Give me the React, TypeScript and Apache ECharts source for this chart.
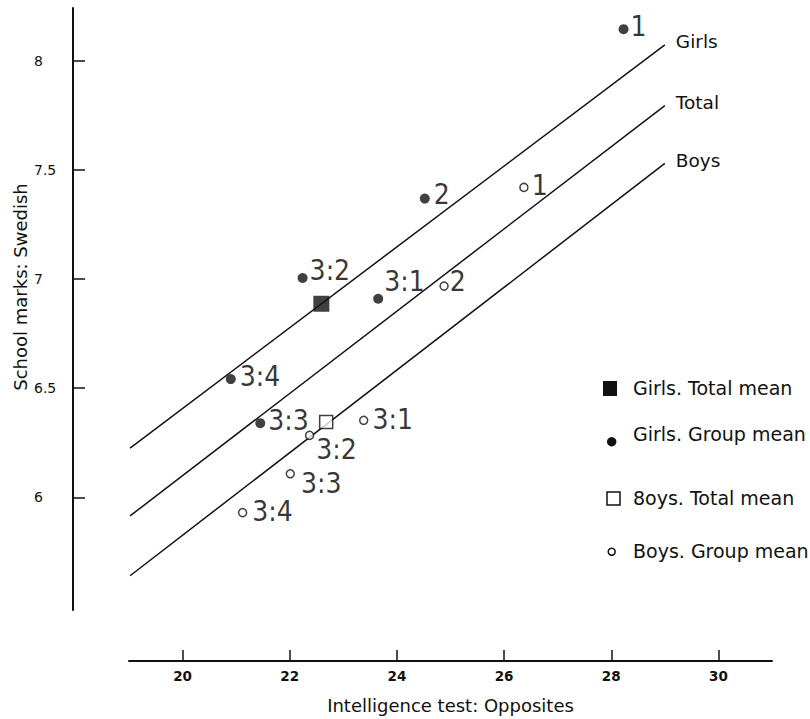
import React, { useEffect, useRef } from "react";
import * as echarts from "echarts";

// ---- data ----
const xTicks = [20, 22, 24, 26, 28, 30];
const yTicks = [6, 6.5, 7, 7.5, 8];

const girlsGroupLabels = ["1", "2", "3:1", "3:2", "3:3", "3:4"];
const girlsGroupX = [28.23, 24.52, 23.65, 22.24, 21.45, 20.9];
const girlsGroupY = [8.145, 7.369, 6.91, 7.005, 6.34, 6.542];

const boysGroupLabels = ["1", "2", "3:1", "3:2", "3:3", "3:4"];
const boysGroupX = [26.37, 24.88, 23.38, 22.37, 22.01, 21.12];
const boysGroupY = [7.42, 6.968, 6.353, 6.284, 6.108, 5.93];

const girlsTotalMean = [22.59, 6.887];
const boysTotalMean = [22.68, 6.345];

const lineNames = ["Girls", "Total", "Boys"];
const lineStartX = [19.02, 19.02, 19.02];
const lineStartY = [6.226, 5.915, 5.641];
const lineEndX = [29.0, 29.0, 29.0];
const lineEndY = [8.073, 7.795, 7.53];

const legendLabels = [
  "Girls. Total mean",
  "Girls. Group mean",
  "8oys. Total mean",
  "Boys. Group mean",
];

// ---- layout (label offsets in px, not data) ----
const girlsLabelDx = [8, 10, 7, 8, 9, 10];
const girlsLabelDy = [-3, -4, -17, -8, -3, -3];
const boysLabelDx = [8, 6, 9, 7, 11, 10];
const boysLabelDy = [-2, -5, -1, 14, 10, -1];

const FONT = "'DejaVu Sans', sans-serif";
const NUM_FONT = "'Liberation Sans Narrow', 'DejaVu Sans Condensed', 'Liberation Sans', sans-serif";

export default function App() {
  const ref = useRef<HTMLDivElement>(null);

  useEffect(() => {
    document.body.style.margin = "0";
    const chart = echarts.init(ref.current!, undefined, { renderer: "svg" });

    const pointLabel = (fontSize: number) => ({
      show: true,
      position: "right" as const,
      distance: 0,
      formatter: "{b}",
      fontFamily: NUM_FONT,
      fontSize,
      color: "#000",
    });

    const gR = 5;
    const bR = 4;

    const girlsData = girlsGroupX.map((x, i) => ({
      name: girlsGroupLabels[i],
      value: [x, girlsGroupY[i]],
      label: { offset: [girlsLabelDx[i] - gR - 1, girlsLabelDy[i]] },
    }));
    const boysData = boysGroupX.map((x, i) => ({
      name: boysGroupLabels[i],
      value: [x, boysGroupY[i]],
      label: { offset: [boysLabelDx[i] - bR - 1, boysLabelDy[i]] },
    }));

    const lineSeries = lineNames.map((n, i) => ({
      name: n,
      type: "line",
      silent: true,
      symbol: "none",
      z: 1,
      lineStyle: { color: "#111", width: 1.5 },
      data: [
        [lineStartX[i], lineStartY[i]],
        [lineEndX[i], lineEndY[i]],
      ],
      endLabel: {
        show: true,
        formatter: "{a}",
        distance: 11,
        offset: [0, -3],
        fontFamily: FONT,
        fontSize: 18.5,
        color: "#111",
      },
    }));

    const option: any = {
      animation: false,
      backgroundColor: "#fff",
      grid: { left: 129, right: 38, top: 8, bottom: 107 },
      xAxis: {
        type: "value",
        min: 19,
        max: 31,
        offset: 51,
        name: "Intelligence test: Opposites",
        nameLocation: "middle",
        nameGap: 35,
        nameTextStyle: { fontFamily: FONT, fontSize: 18, color: "#111" },
        axisLine: { show: true, lineStyle: { color: "#111", width: 2 } },
        axisTick: {
          show: true,
          inside: true,
          length: 11,
          lineStyle: { color: "#111", width: 1.5 },
          customValues: xTicks,
        },
        axisLabel: {
          customValues: xTicks,
          margin: 8,
          fontFamily: FONT,
          fontWeight: "bold",
          fontSize: 13.5,
          color: "#111",
        },
        splitLine: { show: false },
      },
      yAxis: {
        type: "value",
        min: 5.484,
        max: 8.242,
        offset: 56,
        axisLine: { show: true, lineStyle: { color: "#111", width: 2 } },
        axisTick: {
          show: true,
          inside: true,
          length: 12,
          lineStyle: { color: "#111", width: 1.5 },
          customValues: yTicks,
        },
        axisLabel: {
          customValues: yTicks,
          align: "left",
          margin: 39,
          fontFamily: FONT,
          fontSize: 14,
          color: "#111",
          formatter: (v: number) => String(v),
        },
        splitLine: { show: false },
      },
      graphic: [
        {
          type: "text",
          x: 20,
          y: 287,
          rotation: Math.PI / 2,
          style: {
            text: "School marks: Swedish",
            font: `18px ${FONT}`,
            fill: "#111",
            align: "center",
            verticalAlign: "middle",
          },
        },
        { type: "rect", shape: { x: 603, y: 381, width: 14, height: 15 }, style: { fill: "#111" } },
        { type: "circle", shape: { cx: 611.7, cy: 441.7, r: 4.7 }, style: { fill: "#111" } },
        {
          type: "rect",
          shape: { x: 607, y: 492, width: 13, height: 13 },
          style: { fill: "#fff", stroke: "#111", lineWidth: 1.5 },
        },
        {
          type: "circle",
          shape: { cx: 611.7, cy: 551.7, r: 3.5 },
          style: { fill: "#fff", stroke: "#111", lineWidth: 1.5 },
        },
        ...legendLabels.map((t, i) => ({
          type: "text",
          x: 633,
          y: [388, 434, 498, 551][i],
          style: {
            text: t,
            font: `19px ${FONT}`,
            fill: "#111",
            align: "left",
            verticalAlign: "middle",
          },
        })),
      ],
      series: [
        ...lineSeries,
        {
          name: "Girls. Total mean",
          type: "scatter",
          silent: true,
          z: 3,
          symbol: "rect",
          symbolSize: 16,
          itemStyle: { color: "#111" },
          data: [girlsTotalMean],
        },
        {
          name: "Girls. Group mean",
          type: "scatter",
          silent: true,
          z: 3,
          symbol: "circle",
          symbolSize: gR * 2,
          itemStyle: { color: "#111" },
          label: pointLabel(28),
          data: girlsData,
        },
        {
          name: "Boys. Total mean",
          type: "scatter",
          silent: true,
          z: 3,
          symbol: "rect",
          symbolSize: 13,
          itemStyle: { color: "#fff", borderColor: "#111", borderWidth: 1.5 },
          data: [boysTotalMean],
        },
        {
          name: "Boys. Group mean",
          type: "scatter",
          silent: true,
          z: 3,
          symbol: "circle",
          symbolSize: bR * 2,
          itemStyle: { color: "#fff", borderColor: "#111", borderWidth: 1.5 },
          label: pointLabel(28),
          data: boysData,
        },
      ],
    };

    chart.setOption(option);
    return () => chart.dispose();
  }, []);

  return (
    <div
      ref={ref}
      style={{ position: "absolute", left: 0, top: 0, width: 810, height: 719 }}
    />
  );
}
